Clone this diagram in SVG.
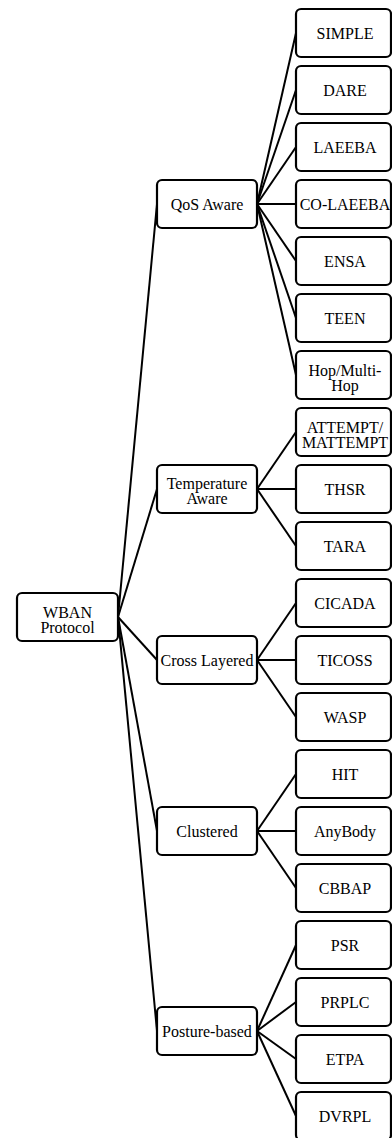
<svg xmlns="http://www.w3.org/2000/svg" width="392" height="1138" viewBox="0 0 392 1138">
<style>
rect.b{fill:#fff;stroke:#000;stroke-width:2.2}
text{font-size:16px;fill:#000;text-anchor:middle}
#connectors line{stroke:#000;stroke-width:2}
</style>
<rect width="392" height="1138" fill="#fff"/>
<g id="connectors">
<line x1="118" y1="617" x2="157" y2="204"/>
<line x1="118" y1="617" x2="157" y2="489"/>
<line x1="118" y1="617" x2="157" y2="660"/>
<line x1="118" y1="617" x2="157" y2="831"/>
<line x1="118" y1="617" x2="157" y2="1031"/>
<line x1="257" y1="204" x2="296" y2="33"/>
<line x1="257" y1="204" x2="296" y2="90"/>
<line x1="257" y1="204" x2="296" y2="147"/>
<line x1="257" y1="204" x2="296" y2="204"/>
<line x1="257" y1="204" x2="296" y2="261"/>
<line x1="257" y1="204" x2="296" y2="318"/>
<line x1="257" y1="204" x2="296" y2="375"/>
<line x1="257" y1="489" x2="296" y2="432"/>
<line x1="257" y1="489" x2="296" y2="489"/>
<line x1="257" y1="489" x2="296" y2="546"/>
<line x1="257" y1="660" x2="296" y2="603"/>
<line x1="257" y1="660" x2="296" y2="660"/>
<line x1="257" y1="660" x2="296" y2="717"/>
<line x1="257" y1="831" x2="296" y2="774"/>
<line x1="257" y1="831" x2="296" y2="831"/>
<line x1="257" y1="831" x2="296" y2="888"/>
<line x1="257" y1="1031" x2="296" y2="945"/>
<line x1="257" y1="1031" x2="296" y2="1002"/>
<line x1="257" y1="1031" x2="296" y2="1059"/>
<line x1="257" y1="1031" x2="296" y2="1116"/>
</g>
<g font-family="Liberation Serif, DejaVu Serif, serif">
<g id="root"><rect class="b" x="17" y="593" width="101" height="48" rx="5"/><text x="67.5" y="618">WBAN</text><text x="67.5" y="633">Protocol</text></g>
<g id="qos"><rect class="b" x="157" y="180" width="100" height="48" rx="5"/><text x="207" y="209.5">QoS Aware</text></g>
<g id="temp"><rect class="b" x="157" y="465" width="100" height="48" rx="5"/><text x="207" y="489">Temperature</text><text x="207" y="504">Aware</text></g>
<g id="cross"><rect class="b" x="157" y="636" width="100" height="48" rx="5"/><text x="207" y="665.5">Cross Layered</text></g>
<g id="clustered"><rect class="b" x="157" y="807" width="100" height="48" rx="5"/><text x="207" y="836.5">Clustered</text></g>
<g id="posture"><rect class="b" x="157" y="1007" width="100" height="48" rx="5"/><text x="207" y="1036.5">Posture-based</text></g>
<g id="simple"><rect class="b" x="296" y="9" width="95" height="48" rx="5"/><text x="345" y="38.5">SIMPLE</text></g>
<g id="dare"><rect class="b" x="296" y="66" width="95" height="48" rx="5"/><text x="345" y="95.5">DARE</text></g>
<g id="laeeba"><rect class="b" x="296" y="123" width="95" height="48" rx="5"/><text x="345" y="152.5">LAEEBA</text></g>
<g id="colaeeba"><rect class="b" x="296" y="180" width="95" height="48" rx="5"/><text x="345" y="209.5">CO-LAEEBA</text></g>
<g id="ensa"><rect class="b" x="296" y="237" width="95" height="48" rx="5"/><text x="345" y="266.5">ENSA</text></g>
<g id="teen"><rect class="b" x="296" y="294" width="95" height="48" rx="5"/><text x="345" y="323.5">TEEN</text></g>
<g id="hop"><rect class="b" x="296" y="351" width="95" height="48" rx="5"/><text x="345" y="376">Hop/Multi-</text><text x="345" y="391">Hop</text></g>
<g id="attempt"><rect class="b" x="296" y="408" width="95" height="48" rx="5"/><text x="345" y="433" font-size="14.5">ATTEMPT/</text><text x="345" y="448" font-size="14.5">MATTEMPT</text></g>
<g id="thsr"><rect class="b" x="296" y="465" width="95" height="48" rx="5"/><text x="345" y="494.5">THSR</text></g>
<g id="tara"><rect class="b" x="296" y="522" width="95" height="48" rx="5"/><text x="345" y="551.5">TARA</text></g>
<g id="cicada"><rect class="b" x="296" y="579" width="95" height="48" rx="5"/><text x="345" y="608.5">CICADA</text></g>
<g id="ticoss"><rect class="b" x="296" y="636" width="95" height="48" rx="5"/><text x="345" y="665.5">TICOSS</text></g>
<g id="wasp"><rect class="b" x="296" y="693" width="95" height="48" rx="5"/><text x="345" y="722.5">WASP</text></g>
<g id="hit"><rect class="b" x="296" y="750" width="95" height="48" rx="5"/><text x="345" y="779.5">HIT</text></g>
<g id="anybody"><rect class="b" x="296" y="807" width="95" height="48" rx="5"/><text x="345" y="836.5">AnyBody</text></g>
<g id="cbbap"><rect class="b" x="296" y="864" width="95" height="48" rx="5"/><text x="345" y="893.5">CBBAP</text></g>
<g id="psr"><rect class="b" x="296" y="921" width="95" height="48" rx="5"/><text x="345" y="950.5">PSR</text></g>
<g id="prplc"><rect class="b" x="296" y="978" width="95" height="48" rx="5"/><text x="345" y="1007.5">PRPLC</text></g>
<g id="etpa"><rect class="b" x="296" y="1035" width="95" height="48" rx="5"/><text x="345" y="1064.5">ETPA</text></g>
<g id="dvrpl"><rect class="b" x="296" y="1092" width="95" height="48" rx="5"/><text x="345" y="1121.5">DVRPL</text></g>
</g>
</svg>
